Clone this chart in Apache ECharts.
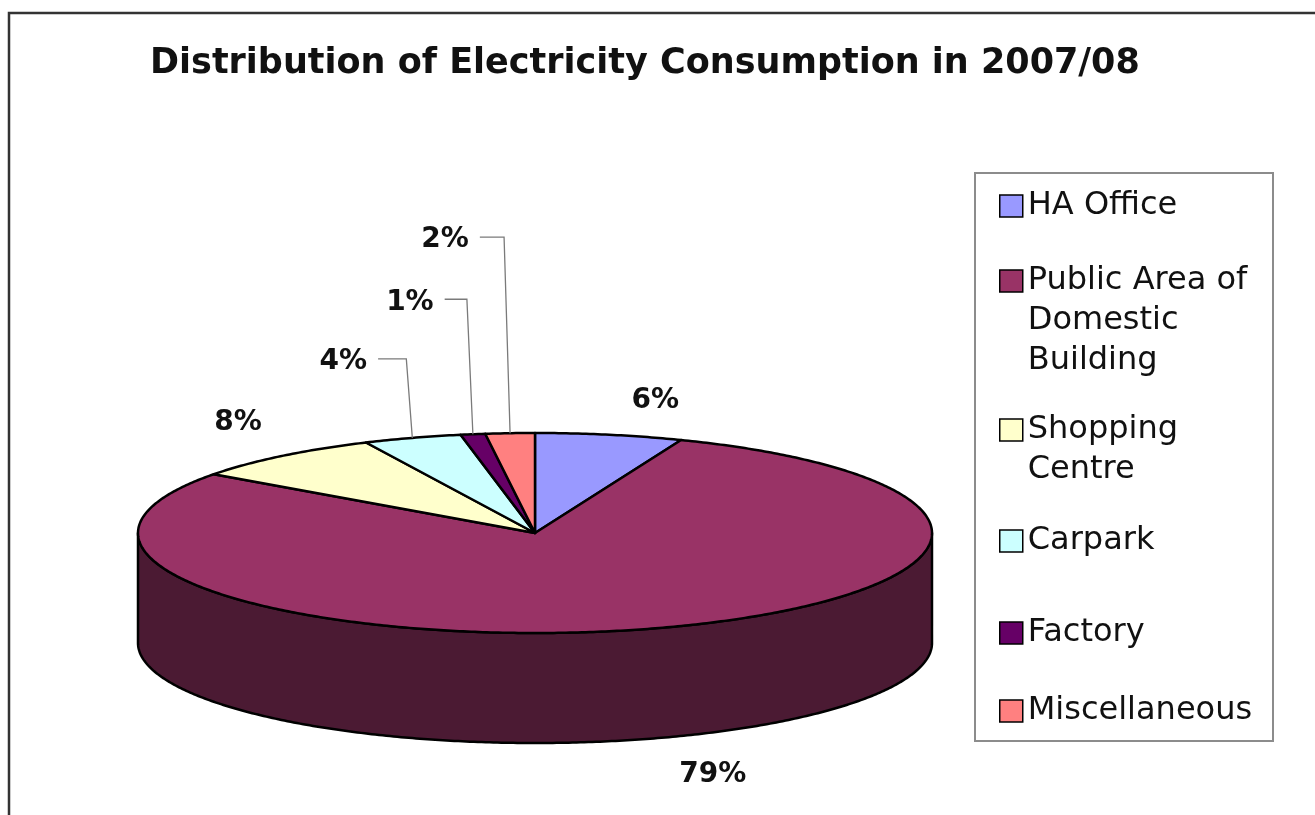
<!DOCTYPE html>
<html>
<head>
<meta charset="utf-8">
<title>Distribution of Electricity Consumption in 2007/08</title>
<script src="https://cdn.jsdelivr.net/npm/echarts@6/dist/echarts.min.js"></script>
<style>
  html, body { margin: 0; padding: 0; background: #fff; }
  #chart { width: 1315px; height: 815px; }
</style>
</head>
<body>
<div id="chart"></div>
<script>
  // data
  const categories = ['HA Office', 'Public Area of Domestic Building', 'Shopping Centre', 'Carpark', 'Factory', 'Miscellaneous']
  const shares = [6, 79, 8, 4, 1, 2]
  const legendText = ['HA Office', 'Public Area of\nDomestic\nBuilding', 'Shopping\nCentre', 'Carpark', 'Factory', 'Miscellaneous']

  // styles / layout
  const colors = ['#9999FF', '#993366', '#FFFFCC', '#CCFFFF', '#660066', '#FF8080']
  const sideColors = ['#4D4D80', '#4B1A33', '#808066', '#668080', '#330033', '#804040']
  // label centre offset from the rim point at mid angle, and whether a leader line is drawn
  const labelPos = [[46, -34, false], [67, 146, false], [-44, -33, false], [-69, -76, true], [-63, -132, true], [-65, -193, true]]
  const legendCenters = [206, 281, 430, 541, 633, 711]
  const DEPTH = 1.1
  const LABEL_FONT = 'bold 28px "DejaVu Sans"'
  const LINE_H = 40

  let total = shares.reduce((a, b) => a + b, 0)
  let ctx = document.createElement('canvas').getContext('2d')
  ctx.font = LABEL_FONT

  function renderSlice(params, api) {
    let i = params.seriesIndex
    let a0 = api.value(0) / total * Math.PI * 2
    let a1 = api.value(1) / total * Math.PI * 2
    let pt = (a, drop) => api.coord([Math.sin(a), Math.cos(a) - (drop || 0)])
    let arc = (s, e, drop) => {
      let n = Math.max(2, Math.ceil((e - s) / 0.01))
      let pts = []
      for (let k = 0; k <= n; k++) pts.push(pt(s + (e - s) * k / n, drop))
      return pts
    }
    let children = []
    // front wall, only the near half of the cylinder shows
    let s = Math.max(a0, Math.PI / 2)
    let e = Math.min(a1, Math.PI * 1.5)
    if (e > s) {
      children.push({
        type: 'polygon',
        shape: { points: arc(s, e, 0).concat(arc(s, e, DEPTH).reverse()) },
        style: { fill: sideColors[i], stroke: '#000', lineWidth: 2.5, lineJoin: 'round' }
      })
    }
    children.push({
      type: 'polygon',
      shape: { points: [api.coord([0, 0])].concat(arc(a0, a1, 0)) },
      style: { fill: colors[i], stroke: '#000', lineWidth: 2.5, lineJoin: 'round' }
    })
    // percentage label
    let edge = pt((a0 + a1) / 2, 0)
    let lx = edge[0] + labelPos[i][0]
    let ly = edge[1] + labelPos[i][1]
    let txt = api.value(2) + '%'
    children.push({
      type: 'text',
      x: lx,
      y: ly,
      style: { text: txt, font: LABEL_FONT, fill: '#111', align: 'center', verticalAlign: 'middle' }
    })
    if (labelPos[i][2]) {
      let half = ctx.measureText(txt).width / 2
      children.push({
        type: 'polyline',
        shape: { points: [edge, [edge[0] - 6, ly - 3], [lx + half + 11, ly - 3]] },
        style: { stroke: '#7a7a7a', lineWidth: 1.3, fill: null }
      })
    }
    return { type: 'group', children: children }
  }

  let series = []
  let cum = 0
  categories.forEach((name, i) => {
    series.push({
      type: 'custom',
      name: name,
      coordinateSystem: 'cartesian2d',
      itemStyle: { color: colors[i] },
      renderItem: renderSlice,
      data: [[cum, cum + shares[i], shares[i]]],
      clip: false,
      silent: true
    })
    cum += shares[i]
  })

  // legend text is centred on its square, so blank lines are put in front
  // of wrapped names to keep the square beside the first line
  let legends = categories.map((name, i) => {
    let extra = legendText[i].split('\n').length - 1
    return {
      data: [name],
      left: 999,
      top: legendCenters[i] - LINE_H / 2 - extra * LINE_H,
      orient: 'vertical',
      icon: 'rect',
      itemWidth: 23,
      itemHeight: 22,
      padding: 0,
      selectedMode: false,
      itemStyle: { borderColor: '#000', borderWidth: 1.5 },
      formatter: () => '\n'.repeat(extra) + legendText[i],
      textStyle: { fontFamily: 'DejaVu Sans', fontSize: 32, lineHeight: LINE_H, color: '#111' }
    }
  })

  let myChart = echarts.init(document.getElementById('chart'))
  myChart.setOption({
    animation: false,
    backgroundColor: '#fff',
    title: {
      text: 'Distribution of Electricity Consumption in 2007/08',
      left: 150,
      top: 46,
      padding: 0,
      textStyle: { fontFamily: 'DejaVu Sans', fontWeight: 'bold', fontSize: 35, color: '#111' }
    },
    graphic: [
      {
        type: 'rect',
        shape: { x: 9, y: 13, width: 1400, height: 900 },
        style: { fill: null, stroke: '#333', lineWidth: 2.5 }
      },
      {
        type: 'rect',
        shape: { x: 975, y: 173, width: 298, height: 568 },
        style: { fill: null, stroke: '#8c8c8c', lineWidth: 2 }
      }
    ],
    legend: legends,
    grid: { left: 138, top: 433, width: 794, height: 310 },
    xAxis: { type: 'value', min: -1, max: 1, show: false },
    yAxis: { type: 'value', min: -2.1, max: 1, show: false },
    series: series
  })
</script>
</body>
</html>
